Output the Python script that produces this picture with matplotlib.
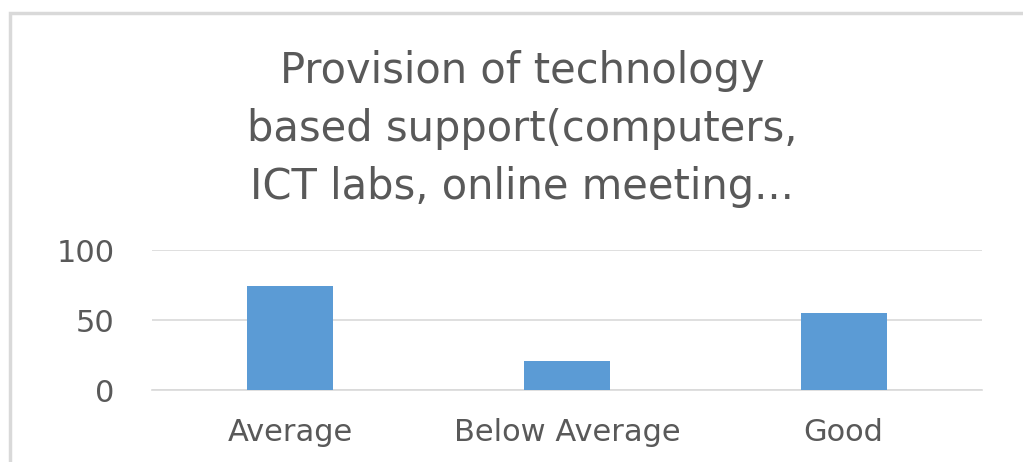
import matplotlib.pyplot as plt
from matplotlib.patches import Rectangle

# Data
categories = ['Average', 'Below Average', 'Good']
values = [74, 21, 55]
y_ticks = [0, 50, 100]

title = 'Provision of technology\nbased support(computers,\nICT labs, online meeting...'

W, H = 1023, 462
fig = plt.figure(figsize=(W / 100, H / 100), dpi=100)
plt.rcParams['font.family'] = ['DejaVu Sans']

# chart border (light gray, runs off the right/bottom edge)
fig.patches.append(Rectangle((10 / W, -0.05), 1.2, 1 - 13 / H + 0.05,
                             transform=fig.transFigure, fill=False,
                             edgecolor='#D9D9D9', linewidth=2.5))

ax = fig.add_axes([152 / W, 1 - 390 / H, (982 - 152) / W, (390 - 250) / H])
x = range(len(categories))
ax.bar(x, values, width=0.31, color='#5B9BD5', zorder=3)

ax.set_xlim(-0.5, len(categories) - 0.5)
ax.set_ylim(0, 100)
ax.set_yticks(y_ticks)
ax.set_xticks(list(x))
ax.set_xticklabels(categories)
ax.tick_params(axis='y', length=0, pad=27, labelsize=22, labelcolor='#595959')
ax.tick_params(axis='x', length=0, pad=20, labelsize=22, labelcolor='#595959')
ax.grid(axis='y', color='#D9D9D9', linewidth=1.2, zorder=0)
for s in ax.spines.values():
    s.set_visible(False)
# category axis line at 0
ax.spines['bottom'].set_visible(True)
ax.spines['bottom'].set_color('#D9D9D9')
ax.spines['bottom'].set_linewidth(1.2)

fig.text(522 / W, 1 - 129 / H, title, ha='center', va='center',
         fontsize=30, color='#595959', linespacing=1.5)

fig.savefig('out.png', dpi=100)
